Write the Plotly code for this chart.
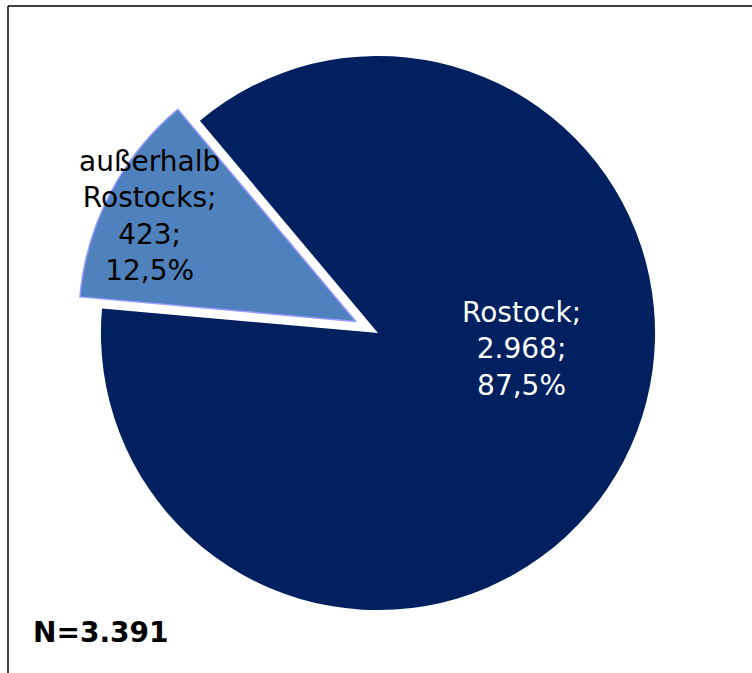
import plotly.graph_objects as go

# Herkunft der Befragten
labels = ["Rostock", "außerhalb Rostocks"]
values = [2968, 423]
colors = ["#002060", "#4F81BD"]
pulls = [0, 0.09]
text_colors = ["white", "black"]

total = sum(values)


def de_int(v):
    return f"{v:,}".replace(",", ".")


def de_pct(v):
    return f"{v / total * 100:.1f}".replace(".", ",") + "%"


W, H = 752, 673

fig = go.Figure(
    go.Pie(
        labels=labels,
        values=values,
        sort=False,
        direction="clockwise",
        rotation=-40,
        pull=pulls,
        marker=dict(colors=colors, line=dict(color=["#002060", "#9999FF"], width=[0, 1.5])),
        textinfo="none",
        hoverinfo="label+value+percent",
        showlegend=False,
        domain=dict(x=[76 / W, 680 / W], y=[1 - 635 / H, 1 - 31 / H]),
    )
)

# slice labels: "Name; Anzahl; Anteil"
label_lines = {
    "Rostock": ["Rostock;"],
    "außerhalb Rostocks": ["außerhalb", "Rostocks;"],
}
label_pos = {
    "Rostock": (521, 349),
    "außerhalb Rostocks": (149, 216),
}
annotations = []
for lab, val, tc in zip(labels, values, text_colors):
    lines = label_lines[lab] + [de_int(val) + ";", de_pct(val)]
    px, py = label_pos[lab]
    annotations.append(
        dict(
            x=px / W, y=1 - py / H, xref="paper", yref="paper",
            text="<br>".join(lines), showarrow=False, align="center",
            xanchor="center", yanchor="middle",
            font=dict(family="DejaVu Sans", size=28, color=tc),
        )
    )

annotations.append(
    dict(
        x=31 / W, y=1 - 632 / H, xref="paper", yref="paper",
        text="<b>N=" + de_int(total) + "</b>", showarrow=False,
        xanchor="left", yanchor="middle",
        font=dict(family="DejaVu Sans", size=28, color="black"),
    )
)

# chart frame (left and top edges)
shapes = [
    dict(type="line", xref="paper", yref="paper", x0=8 / W, x1=8 / W, y0=0, y1=1 - 6 / H,
         line=dict(color="black", width=1.5)),
    dict(type="line", xref="paper", yref="paper", x0=8 / W, x1=1, y0=1 - 6 / H, y1=1 - 6 / H,
         line=dict(color="black", width=1.5)),
]

fig.update_layout(
    width=W, height=H,
    margin=dict(l=0, r=0, t=0, b=0),
    paper_bgcolor="white",
    plot_bgcolor="white",
    annotations=annotations,
    shapes=shapes,
)

fig.write_html("out.html")
